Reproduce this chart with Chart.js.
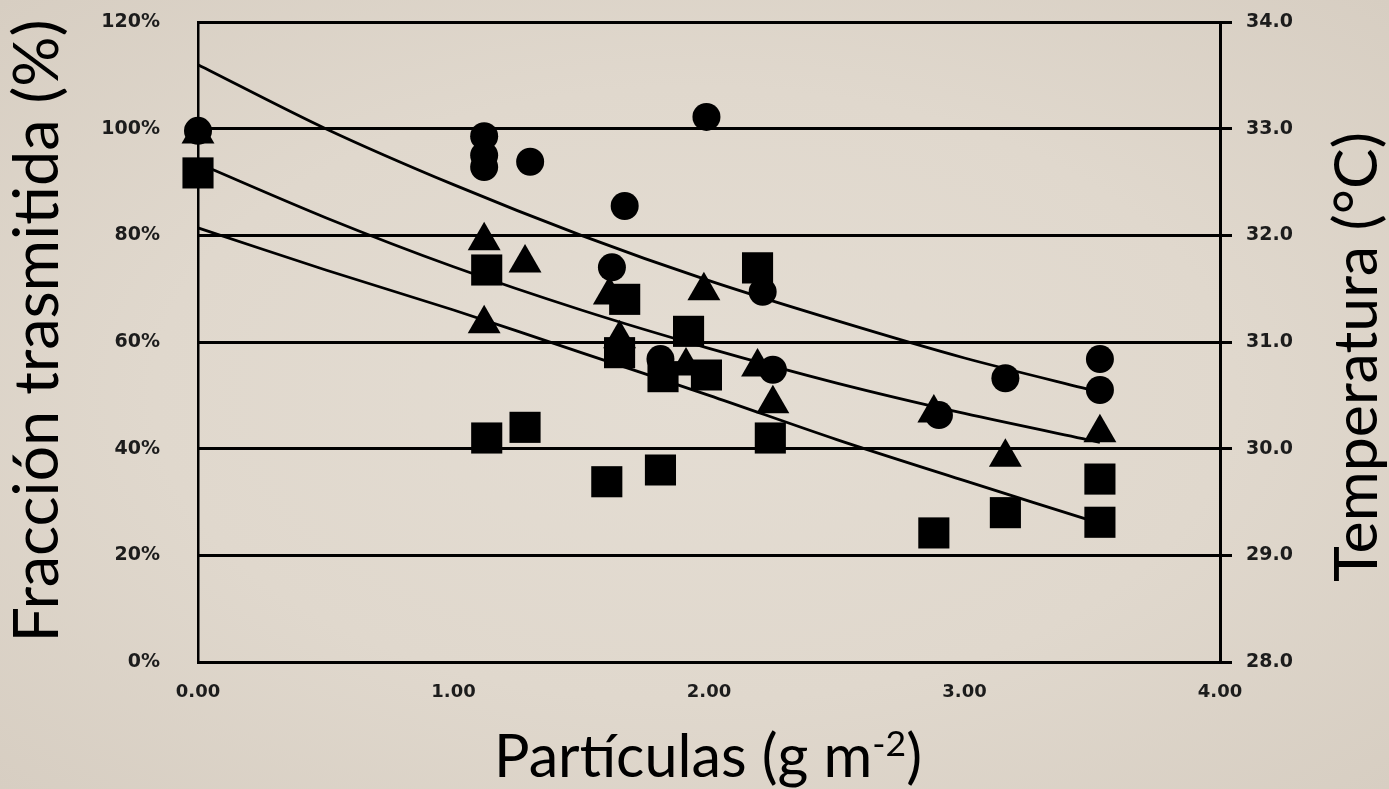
<!DOCTYPE html>
<html>
<head>
<meta charset="utf-8">
<script src="https://cdn.jsdelivr.net/npm/chart.js@4.4.0/dist/chart.umd.min.js"></script>
<style>
  html, body { margin: 0; padding: 0; }
  body {
    width: 1389px; height: 789px; overflow: hidden;
    background: radial-gradient(ellipse at center, #e4ddd3 0%, #e0d8cd 55%, #d7cec2 100%);
  }
  canvas { display: block; }
</style>
</head>
<body>
<canvas id="particle-chart" width="1389" height="789"></canvas>
<script>
// Fracción trasmitida vs. partículas depositadas
const circleX = [0, 1.12, 1.12, 1.12, 1.30, 1.67, 1.99, 1.62, 2.21, 1.81, 2.25, 2.90, 3.16, 3.53, 3.53];
const circleY = [99.6, 98.6, 95, 92.8, 93.8, 85.5, 102.2, 74, 69.4, 56.8, 54.8, 46.3, 53.2, 56.8, 51];

const triX = [0, 1.12, 1.12, 1.28, 1.61, 1.65, 1.98, 1.91, 2.19, 2.25, 2.88, 3.16, 3.53];
const triY = [99, 79, 63.4, 74.8, 68.8, 60.6, 69.6, 55.5, 55.3, 48.4, 46.7, 38.4, 43];

const squareX = [0, 1.13, 1.13, 1.28, 1.60, 1.81, 1.67, 1.65, 1.92, 1.82, 1.99, 2.19, 2.24, 2.88, 3.16, 3.53, 3.53];
const squareY = [91.7, 73.5, 42, 44, 33.8, 36, 68, 58, 62, 53.5, 53.8, 73.9, 42, 24.2, 28, 34.3, 26.2];

// trend curves, points
const fitX = [0, 0.5, 1, 1.5, 2, 2.5, 3, 3.53];
const fitTop = [112, 100, 89.5, 80, 71.5, 64, 57, 50.6];
const fitMid = [93.5, 83.3, 74.1, 66, 58.8, 52.3, 46.6, 41.2];
const fitLow = [81.4, 73.5, 66, 58, 50, 41.7, 34, 26];

const leftTitle = "Fracción trasmitida (%)";
const rightTitle = "Temperatura (°C)";
const xTitle = "Partículas (g m";
const xTitleSup = "-2";
const xTitleEnd = ")";

const pts = (xs, ys) => xs.map((x, i) => ({ x: x, y: ys[i] }));

const markerSet = (data, style, r) => ({
    data: data,
    pointStyle: style,
    pointRadius: r,
    pointHoverRadius: r,
    backgroundColor: "#000",
    borderColor: "#000",
    borderWidth: 0,
    showLine: false,
    clip: false,
    order: 1
});

const fitLine = (data) => ({
    data: data,
    showLine: true,
    borderColor: "#000",
    borderWidth: 2.8,
    pointRadius: 0,
    tension: 0.3,
    clip: false,
    order: 2
});

function fitSize(ctx, text, target, family) {
    ctx.font = "100px " + family;
    return 100 * target / ctx.measureText(text).width;
}

// axis titles drawn by hand: right one reads bottom-to-top, x one has a superscript
const axisTitles = {
    id: "axisTitles",
    afterDraw(chart) {
        const ctx = chart.ctx;
        const fam = "Lato";
        ctx.save();
        ctx.fillStyle = "#000";
        ctx.textAlign = "center";
        ctx.textBaseline = "alphabetic";

        let s = fitSize(ctx, leftTitle, 623, fam);
        ctx.font = s + "px " + fam;
        ctx.save();
        ctx.translate(58, 331);
        ctx.rotate(-Math.PI / 2);
        ctx.fillText(leftTitle, 0, 0);
        ctx.restore();

        s = fitSize(ctx, rightTitle, 450, fam);
        ctx.font = s + "px " + fam;
        ctx.save();
        ctx.translate(1377, 357);
        ctx.rotate(-Math.PI / 2);
        ctx.fillText(rightTitle, 0, 0);
        ctx.restore();

        // x title
        ctx.font = "100px " + fam;
        const w1 = ctx.measureText(xTitle).width;
        const w3 = ctx.measureText(xTitleEnd).width;
        ctx.font = "60px " + fam;
        const w2 = ctx.measureText(xTitleSup).width;
        s = 100 * 428 / (w1 + w2 + w3);
        const k = s / 100;
        let x = 708 - 214;
        const base = 777;
        ctx.textAlign = "left";
        ctx.font = s + "px " + fam;
        ctx.fillText(xTitle, x, base);
        x += w1 * k;
        ctx.font = (s * 0.6) + "px " + fam;
        ctx.fillText(xTitleSup, x, base - s * 0.36);
        x += w2 * k;
        ctx.font = s + "px " + fam;
        ctx.fillText(xTitleEnd, x, base);
        ctx.restore();
    }
};

const tickFont = { family: "DejaVu Sans", weight: "bold", size: 19 };

new Chart("particle-chart", {
    type: "scatter",
    data: {
        datasets: [
            markerSet(pts(circleX, circleY), "circle", 14),
            markerSet(pts(triX, triY), "triangle", 19),
            markerSet(pts(squareX, squareY), "rect", 22),
            fitLine(pts(fitX, fitTop)),
            fitLine(pts(fitX, fitMid)),
            fitLine(pts(fitX, fitLow))
        ]
    },
    options: {
        responsive: false,
        animation: false,
        devicePixelRatio: 1,
        layout: { autoPadding: false, padding: { top: 22, left: 0, right: 0, bottom: 0 } },
        plugins: { legend: { display: false }, tooltip: { enabled: false } },
        scales: {
            x: {
                type: "linear",
                min: 0, max: 4,
                ticks: { stepSize: 1, padding: 12, color: "#1c1c1c", font: { family: "DejaVu Sans", weight: "bold", size: 18 },
                         callback: v => v.toFixed(2) },
                grid: { display: false },
                border: { display: true, color: "#000", width: 3 },
                afterFit: s => { s.height = 127; s.paddingLeft = 0; s.paddingRight = 0; }
            },
            y: {
                position: "left",
                min: 0, max: 120,
                ticks: { stepSize: 20, padding: 30, color: "#1c1c1c", font: tickFont,
                         callback: v => v + "%" },
                grid: { display: false },
                border: { display: true, color: "#000", width: 2.5 },
                afterFit: s => { s.width = 198; s.paddingTop = 0; s.paddingBottom = 0; }
            },
            y2: {
                position: "right",
                min: 28, max: 34,
                ticks: { stepSize: 1, padding: 14, color: "#1c1c1c", font: tickFont,
                         callback: v => v.toFixed(1) },
                grid: { color: "#000", lineWidth: 3, tickLength: 12, drawOnChartArea: true },
                border: { display: true, color: "#000", width: 3 },
                afterFit: s => { s.width = 169; s.paddingTop = 0; s.paddingBottom = 0; }
            }
        }
    },
    plugins: [axisTitles]
});
</script>
</body>
</html>
